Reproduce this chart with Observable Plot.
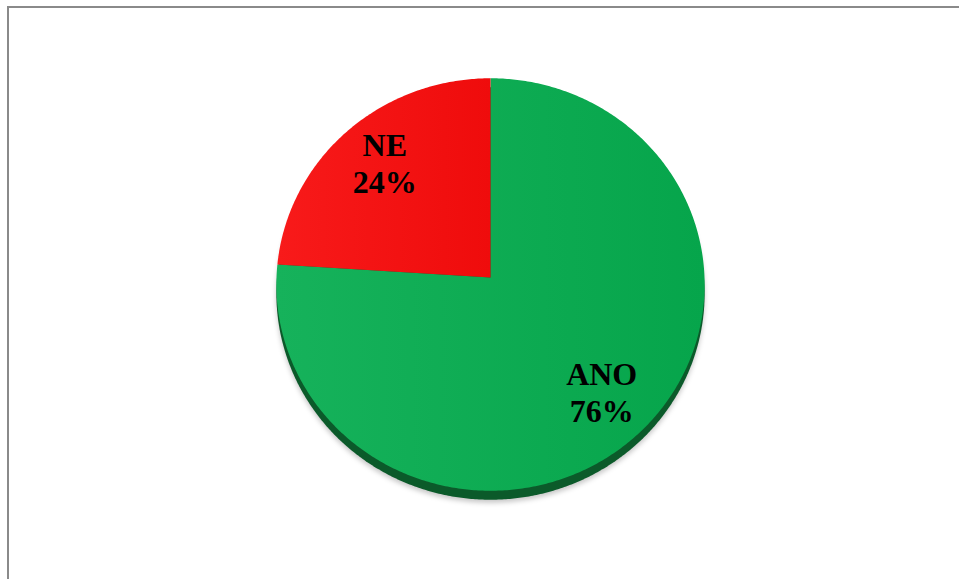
<!DOCTYPE html>
<html>
<head>
<meta charset="utf-8">
<script src="https://cdn.jsdelivr.net/npm/d3@7"></script>
<script src="https://cdn.jsdelivr.net/npm/@observablehq/plot@0.6"></script>
<style>
  html, body { margin: 0; padding: 0; background: #fff; width: 959px; height: 579px; overflow: hidden; }
  #frame { position: absolute; left: 7px; top: 6px; width: 960px; height: 580px; box-sizing: border-box;
           border-left: 2px solid #8a8a8a; border-top: 2px solid #8a8a8a; }
  #chart { position: absolute; left: 0; top: 0; }
</style>
</head>
<body>
<div id="frame"></div>
<div id="chart"></div>
<script>
// ---- data ----
const categories = ["ANO", "NE"];
const values = [76, 24];
const percentLabels = ["76%", "24%"];

// ---- layout ----
const W = 959, H = 579;
const cx = 490, cy = 277, rx = 214, ry = 206, k = 0.034, rim = 9;
const fills = { ANO: "url(#gGreen)", NE: "url(#gRed)" };

function project(a, r, dy = 0) {
  const u = r * Math.sin(a), v = -r * Math.cos(a);
  const d = 1 - k * v;
  return { x: cx + rx * u / d, y: cy + ry * v / d + dy };
}

const pie = d3.pie().sort(null).value(d => d.value)(categories.map((c, i) => ({ cat: c, value: values[i], label: percentLabels[i] })));

function slicePoints(arc) {
  const pts = [project(0, 0)];
  const n = Math.max(2, Math.ceil((arc.endAngle - arc.startAngle) / 0.01));
  for (let i = 0; i <= n; i++) pts.push(project(arc.startAngle + (arc.endAngle - arc.startAngle) * i / n, 1));
  pts.push(project(0, 0));
  return pts;
}
function ellipsePoints(dy) {
  const pts = [];
  for (let i = 0; i <= 720; i++) pts.push(project(2 * Math.PI * i / 720, 1, dy));
  return pts;
}

const labelRows = pie.map(a => {
  const isNE = a.data.cat === "NE";
  const p = project((a.startAngle + a.endAngle) / 2 + (isNE ? 0.03 : 0), isNE ? 0.76 : 0.745);
  return { x: p.x, y: p.y, text: a.data.cat + "\n" + a.data.label };
});

const defs = () => {
  const ns = "http://www.w3.org/2000/svg";
  const g = document.createElementNS(ns, "defs");
  g.innerHTML = `
    <linearGradient id="gGreen" x1="0" y1="0" x2="1" y2="0">
      <stop offset="0" stop-color="#16b25b"/><stop offset="1" stop-color="#06a54b"/>
    </linearGradient>
    <linearGradient id="gRed" x1="0" y1="0" x2="1" y2="0">
      <stop offset="0" stop-color="#f81a1a"/><stop offset="1" stop-color="#ef0c0c"/>
    </linearGradient>
    <filter id="soft" x="-10%" y="-10%" width="120%" height="120%"><feGaussianBlur stdDeviation="2.5"/></filter>`;
  return g;
};

const marks = [
  defs,
  Plot.line(ellipsePoints(rim + 3), { x: "x", y: "y", fill: "#000", fillOpacity: 0.22, stroke: "none" }),
  Plot.line(ellipsePoints(rim), { x: "x", y: "y", fill: "#0b5a2a", stroke: "none" }),
  ...pie.map(a => Plot.line(slicePoints(a), { x: "x", y: "y", fill: fills[a.data.cat], stroke: "none", curve: "linear" })),
  Plot.text(labelRows, { x: "x", y: "y", text: "text", fontFamily: "Liberation Serif, Times New Roman, serif",
    fontWeight: "bold", fontSize: 32, lineHeight: 1.15, fill: "#000", textAnchor: "middle" })
];

const chart = Plot.plot({
  width: W, height: H, margin: 0,
  x: { type: "identity", axis: null }, y: { type: "identity", axis: null },
  style: { background: "transparent", overflow: "visible" },
  marks
});
document.getElementById("chart").appendChild(chart);
// blur the soft shadow
const firstLineG = chart.querySelector("g[aria-label='line']");
if (firstLineG) firstLineG.setAttribute("filter", "url(#soft)");
</script>
</body>
</html>
